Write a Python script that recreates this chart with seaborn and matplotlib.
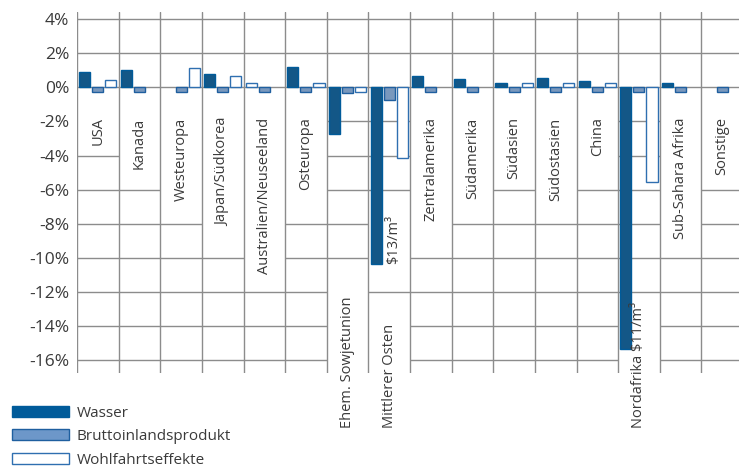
import numpy as np
import pandas as pd
import seaborn as sns
import matplotlib
matplotlib.use("Agg")
import matplotlib.pyplot as plt
from matplotlib.patches import Rectangle, Patch

# ---------------- data ----------------
regions = ["USA", "Kanada", "Westeuropa", "Japan/Südkorea", "Australien/Neuseeland",
           "Osteuropa", "Ehem. Sowjetunion", "Mittlerer Osten", "Zentralamerika",
           "Südamerika", "Südasien", "Südostasien", "China", "Nordafrika",
           "Sub-Sahara Afrika", "Sonstige"]
wasser = [0.88, 1.00, np.nan, 0.76, 0.24, 1.18, -2.76, -10.35, 0.65, 0.49,
          0.27, 0.53, 0.39, -15.37, 0.27, np.nan]
bip = [-0.25, -0.25, -0.25, -0.25, -0.27, -0.25, -0.33, -0.73, -0.25, -0.25,
       -0.25, -0.25, -0.25, -0.25, -0.25, -0.25]
wohlfahrt = [0.41, np.nan, 1.13, 0.65, np.nan, 0.24, -0.25, -4.14, np.nan, np.nan,
             0.24, 0.24, 0.24, -5.57, np.nan, np.nan]
series = ["Wasser", "Bruttoinlandsprodukt", "Wohlfahrtseffekte"]
price_notes = {"Mittlerer Osten": "$13/m³", "Nordafrika": "$11/m³"}
yticks = list(range(4, -17, -2))

# ---------------- styling ----------------
sns.set_theme(style="white")
plt.rcParams["font.family"] = ["Open Sans", "DejaVu Sans"]
plt.rcParams["font.weight"] = "normal"
TXT = "#3a3a3a"
GRID = "#8c8c8c"
C_WASSER = "#005b9a"
C_BIP = "#6d97c9"
C_BIP_EDGE = "#1f5f9f"
C_WOHL_EDGE = "#2f6fb0"
FS = 10.5
FS_TICK = 12.5
FS_LEG = 11

df = pd.DataFrame({
    "Region": regions * 3,
    "Serie": [series[0]] * len(regions) + [series[1]] * len(regions) + [series[2]] * len(regions),
    "Wert": wasser + bip + wohlfahrt,
}).dropna()

fig = plt.figure(figsize=(7.39, 4.66), dpi=100)
ax = fig.add_axes([77 / 739, 1 - 373 / 466, 666 / 739, 361 / 466])

sns.barplot(data=df, x="Region", y="Wert", hue="Serie", order=regions,
            hue_order=series, palette=[C_WASSER, C_BIP, "white"],
            width=0.94, gap=0.15, errorbar=None, ax=ax, legend=False)

edges = [C_WASSER, C_BIP_EDGE, C_WOHL_EDGE]
for cont, ec in zip(ax.containers, edges):
    for p in cont:
        p.set_edgecolor(ec)
        p.set_linewidth(1.0)
        p.set_zorder(3)
# Australien/Neuseeland water bar drawn as outline in the original
for p in ax.containers[0]:
    if abs(p.get_x() + p.get_width() / 2 - regions.index("Australien/Neuseeland")) < 0.5:
        p.set_facecolor("white")
        p.set_edgecolor(C_WOHL_EDGE)

ax.set_xlim(-0.5, len(regions) - 0.5)
ax.set_ylim(-16.75, 4.42)
for s in ax.spines.values():
    s.set_visible(False)
ax.set_xlabel("")
ax.set_ylabel("")
ax.set_xticks([])
ax.set_yticks(yticks)
ax.set_yticklabels([f"{v}%" for v in yticks], color=TXT, fontsize=FS_TICK)
ax.tick_params(axis="y", length=0, pad=5.5)

for v in yticks:
    ax.axhline(v, color=GRID, lw=1.0, zorder=0.5)
for b in np.arange(len(regions) + 1) - 0.5:
    ax.axvline(b, color=GRID, lw=1.0, zorder=2)

# ---------------- region labels ----------------
low_labels = {"Ehem. Sowjetunion", "Mittlerer Osten", "Nordafrika"}
texts = []
for i, r in enumerate(regions):
    if r in low_labels:
        lab = r + (" " + price_notes[r] if r == "Nordafrika" else "")
        t = ax.text(i, -20.0, lab, rotation=90, ha="center", va="bottom",
                    fontsize=FS, color=TXT, clip_on=False, zorder=4, parse_math=False)
    else:
        t = ax.text(i, -1.76, r, rotation=90, ha="center", va="top",
                    fontsize=FS, color=TXT, zorder=4, parse_math=False)
    texts.append((i, t))
i_mo = regions.index("Mittlerer Osten")
t = ax.text(i_mo + 0.1, wasser[i_mo], price_notes["Mittlerer Osten"], rotation=90,
            ha="center", va="bottom", fontsize=FS, color=TXT, zorder=4, parse_math=False)
texts.append((i_mo, t))

fig.canvas.draw()
inv = ax.transData.inverted()
pad = 6 / 17.03
for i, t in texts:
    bb = t.get_window_extent()
    (_, y0), (_, y1) = inv.transform([[bb.x0, bb.y0], [bb.x1, bb.y1]])
    ax.add_patch(Rectangle((i - 0.5, y0 - pad), 1, (y1 - y0) + 2 * pad,
                           facecolor="white", edgecolor="none", zorder=1))

# ---------------- legend ----------------
handles = [Patch(facecolor=C_WASSER, edgecolor=C_WASSER, lw=1.0),
           Patch(facecolor=C_BIP, edgecolor=C_BIP_EDGE, lw=1.0),
           Patch(facecolor="white", edgecolor=C_WOHL_EDGE, lw=1.0)]
leg = fig.legend(handles, series, loc="upper left",
                 bbox_to_anchor=(12 / 739, 1 - 406 / 466), frameon=False,
                 fontsize=FS_LEG, handlelength=3.75, handleheight=0.72,
                 handletextpad=0.5, labelspacing=0.54, borderpad=0, borderaxespad=0)
for tx in leg.get_texts():
    tx.set_color(TXT)

fig.savefig("out.png", dpi=100)
